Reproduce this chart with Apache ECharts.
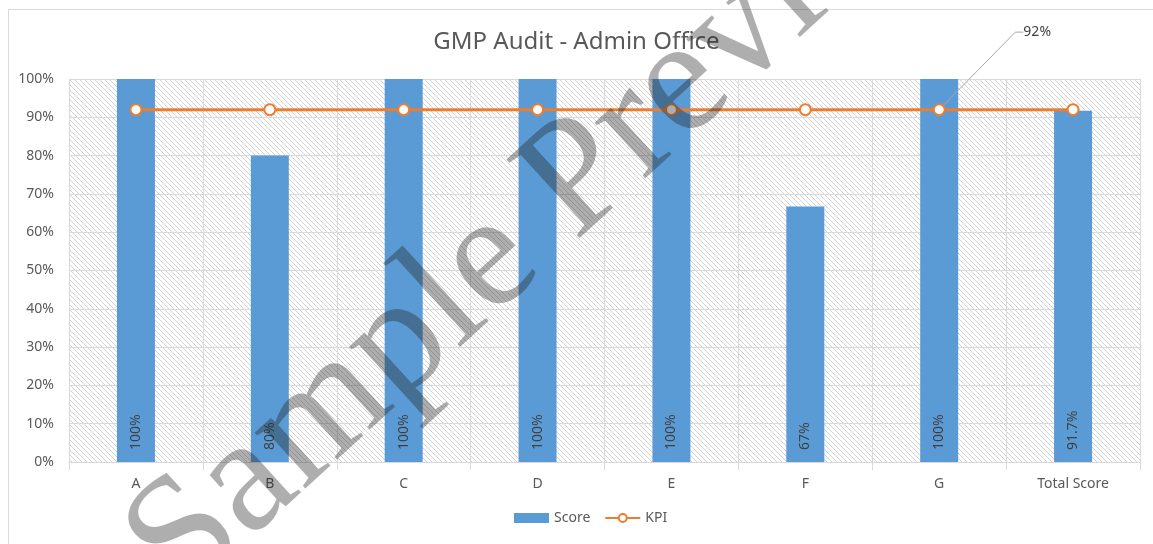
<!DOCTYPE html>
<html>
<head>
<meta charset="utf-8">
<script src="https://cdn.jsdelivr.net/npm/echarts@6/dist/echarts.min.js"></script>
<style>html,body{margin:0;padding:0;background:#fff;}#c{width:1153px;height:544px;}</style>
</head>
<body>
<div id="c"></div>
<script>
const categories = ['A', 'B', 'C', 'D', 'E', 'F', 'G', 'Total Score'];
const scoreValues = [100, 80, 100, 100, 100, 66.7, 100, 91.7];
const scoreLabels = ['100%', '80%', '100%', '100%', '100%', '67%', '100%', '91.7%'];
const kpiValues = [92, 92, 92, 92, 92, 92, 92, 92];
const kpiCalloutIndex = 6;
const kpiCalloutLabel = '92%';

// hatch pattern for plot background
const pc = document.createElement('canvas');
pc.width = 5; pc.height = 5;
const g = pc.getContext('2d');
g.fillStyle = '#ffffff'; g.fillRect(0, 0, 5, 5);
g.strokeStyle = '#d3d3d3'; g.lineWidth = 1;
g.beginPath();
g.moveTo(-1, -1); g.lineTo(6, 6);
g.moveTo(-1, 4); g.lineTo(1, 6);
g.moveTo(4, -1); g.lineTo(6, 1);
g.stroke();

const chart = echarts.init(document.getElementById('c'), null, {renderer: 'canvas'});
const font = '"Noto Sans", "Open Sans", sans-serif';
chart.setOption({
  animation: false,
  textStyle: {fontFamily: font},
  title: {
    text: 'GMP Audit - Admin Office', left: 'center', top: 25,
    textStyle: {fontSize: 24, fontWeight: 'normal', color: '#595959', fontFamily: font}
  },
  legend: {
    bottom: 14, left: 509, itemGap: 14,
    itemWidth: 35, itemHeight: 10,
    textStyle: {color: '#595959', fontSize: 14},
    data: [{name: 'Score', icon: 'rect'}, {name: 'KPI'}]
  },
  grid: {
    left: 69, right: 13, top: 79, bottom: 82, containLabel: false,
    show: true, borderWidth: 0,
    backgroundColor: {image: pc, repeat: 'repeat'}
  },
  xAxis: {
    type: 'category', data: categories, boundaryGap: true,
    axisLine: {show: true, lineStyle: {color: '#d9d9d9', width: 1}},
    axisTick: {show: true, length: 8, lineStyle: {color: '#d9d9d9'}},
    splitLine: {show: true, lineStyle: {color: '#d9d9d9', width: 1}},
    axisLabel: {color: '#595959', fontSize: 14, margin: 15}
  },
  yAxis: {
    type: 'value', min: 0, max: 100, interval: 10,
    axisLine: {show: false}, axisTick: {show: false},
    splitLine: {show: true, lineStyle: {color: '#d9d9d9', width: 1}},
    axisLabel: {color: '#595959', fontSize: 14, margin: 15, formatter: '{value}%'}
  },
  series: [
    {
      name: 'Score', type: 'bar', data: scoreValues, barWidth: 38,
      itemStyle: {color: '#5b9bd5'},
      label: {
        show: true, position: 'insideBottom', rotate: 90, align: 'left', verticalAlign: 'middle',
        distance: 12, color: '#404040', fontSize: 14,
        formatter: p => scoreLabels[p.dataIndex]
      },
      z: 2
    },
    {
      name: 'KPI', type: 'line', z: 3,
      data: kpiValues.map((v, i) => i === kpiCalloutIndex ? {
        value: v,
        label: {show: true, position: 'top', formatter: kpiCalloutLabel, color: '#404040', fontSize: 14},
        labelLine: {show: true, length2: 8, lineStyle: {color: '#a6a6a6', width: 1}}
      } : v),
      label: {show: false},
      labelLine: {show: true, length2: 8, lineStyle: {color: '#a6a6a6', width: 1}},
      labelLayout: p => p.dataIndex === kpiCalloutIndex ? {dx: 98, dy: -59} : {},
      lineStyle: {color: '#ed7d31', width: 3},
      itemStyle: {color: '#ed7d31', borderWidth: 2},
      symbol: 'emptyCircle', symbolSize: 11
    }
  ],
  graphic: [
    {type: 'rect', left: 6, top: 7, shape: {width: 1200, height: 600}, silent: true,
     style: {fill: 'none', stroke: '#d9d9d9', lineWidth: 1}, z: -10},
    {type: 'text', x: 208, y: 630, rotation: 0.74, silent: true, z: 100,
     style: {text: 'Sample Preview', font: '164px "Liberation Serif", serif',
             fill: 'rgba(30,30,30,0.36)',
             textAlign: 'left', textVerticalAlign: 'bottom'}}
  ]
});
</script>
</body>
</html>
